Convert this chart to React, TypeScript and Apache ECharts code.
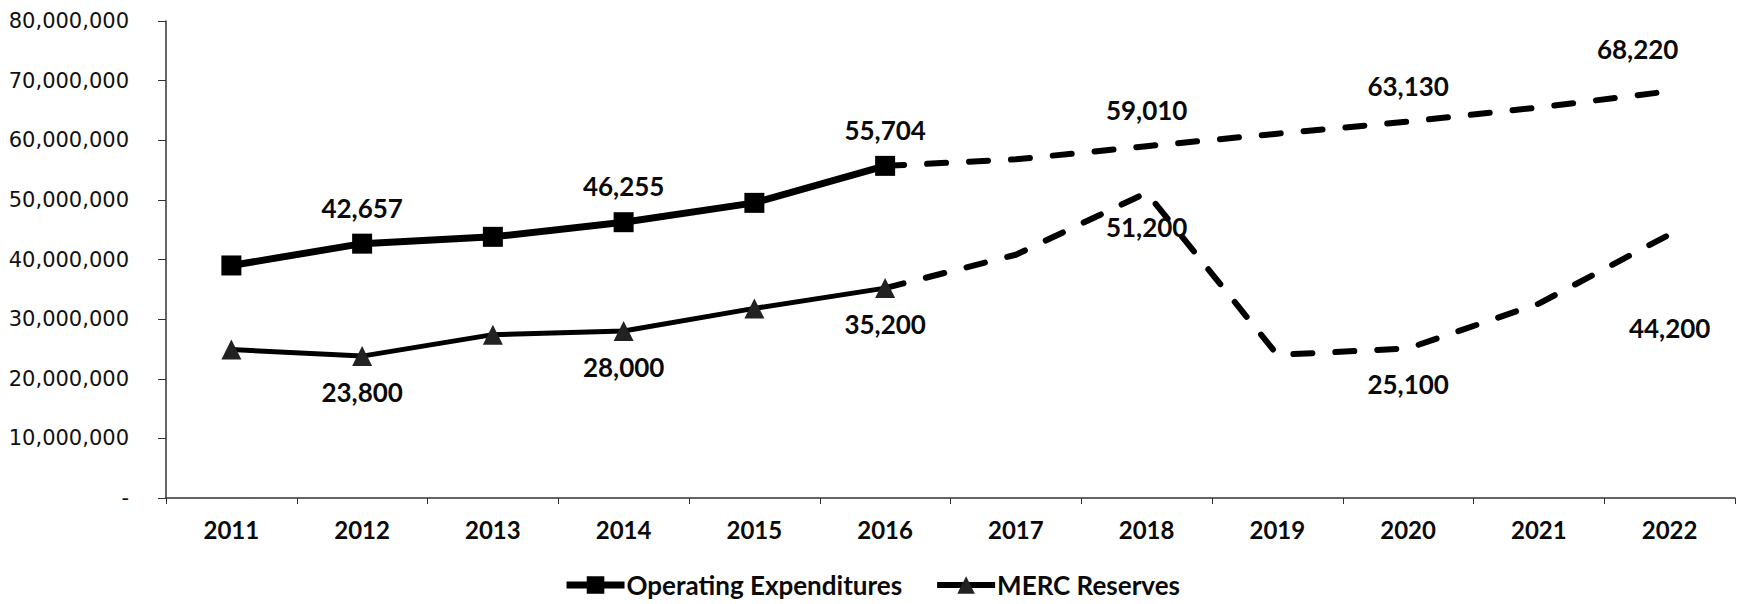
import React, { useEffect, useRef } from "react";
import * as echarts from "echarts";

const years = ["2011", "2012", "2013", "2014", "2015", "2016", "2017", "2018", "2019", "2020", "2021", "2022"];
// values in thousands of dollars (labels show thousands, axis shows dollars)
const opsK = [39000, 42657, 43800, 46255, 49500, 55704, 56800, 59010, 61100, 63130, 65500, 68220];
const mercK = [24900, 23800, 27400, 28000, 31800, 35200, 40800, 51200, 24000, 25100, 32600, 44200];
const yTicks = [0, 10000000, 20000000, 30000000, 40000000, 50000000, 60000000, 70000000, 80000000];
const lastActual = 5; // 2016
const opsLabelIdx = [1, 3, 5, 7, 9, 11];
const mercLabelIdx = [1, 3, 5, 7, 9, 11];

const opsOffsets: Record<number, number[]> = { 11: [-32, -42] };
const mercOffsets: Record<number, number[]> = { 7: [0, 34], 11: [0, 94] };

const fmt = (k: number) => k.toLocaleString("en-US");

const labelStyle = {
  fontFamily: "Lato",
  fontWeight: "bold" as const,
  fontSize: 26,
  color: "#0a0a0a",
};

function build(
  vals: number[],
  from: number,
  to: number,
  labelIdx: number[],
  offsets: Record<number, number[]>,
  defOff: number[]
) {
  return vals.map((v, i) => {
    if (i < from || i > to) return null;
    const show = labelIdx.includes(i) && !(from > 0 && i === from);
    return {
      value: v * 1000,
      label: show
        ? { show: true, position: "inside", offset: offsets[i] ?? defOff, formatter: fmt(v), ...labelStyle }
        : { show: false },
    };
  });
}

export default function App() {
  const ref = useRef<HTMLDivElement>(null);
  useEffect(() => {
    if (!ref.current) return;
    const chart = echarts.init(ref.current, undefined, { renderer: "svg" });
    chart.setOption({
      animation: false,
      backgroundColor: "#ffffff",
      grid: { left: 166, right: 8, top: 21, bottom: 106, containLabel: false },
      legend: {
        show: true,
        data: [
          { name: "Operating Expenditures", lineStyle: { width: 7 } },
          { name: "MERC Reserves", lineStyle: { width: 6 } },
        ],
        left: "center",
        top: 567,
        itemWidth: 58,
        itemHeight: 22,
        itemGap: 32,
        textStyle: { fontFamily: "Lato", fontWeight: "bold", fontSize: 26, color: "#0a0a0a", padding: [0, 0, 0, -3] },
      },
      xAxis: {
        type: "category",
        data: years,
        boundaryGap: true,
        axisLine: { show: true, lineStyle: { color: "#333", width: 1.5 } },
        axisTick: { show: true, length: 6, lineStyle: { color: "#333" } },
        axisLabel: { fontFamily: "Lato", fontWeight: "bold", fontSize: 24, color: "#0a0a0a", margin: 19 },
        splitLine: { show: false },
      },
      yAxis: {
        type: "value",
        min: yTicks[0],
        max: yTicks[yTicks.length - 1],
        interval: yTicks[1] - yTicks[0],
        axisLine: { show: true, lineStyle: { color: "#333", width: 1.5 } },
        axisTick: { show: true, length: 8, lineStyle: { color: "#333" } },
        splitLine: { show: false },
        axisLabel: {
          fontFamily: "DejaVu Sans",
          fontSize: 21,
          color: "#111",
          margin: 37,
          formatter: (v: number) => (v === 0 ? "-" : v.toLocaleString("en-US")),
        },
      },
      series: [
        {
          name: "Operating Expenditures",
          type: "line",
          data: build(opsK, 0, lastActual, opsLabelIdx, opsOffsets, [0, -36]),
          symbol: "rect",
          symbolSize: 20,
          itemStyle: { color: "#000" },
          lineStyle: { color: "#000", width: 7 },
          z: 3,
        },
        {
          name: "MERC Reserves",
          type: "line",
          data: build(mercK, 0, lastActual, mercLabelIdx, mercOffsets, [0, 36]),
          symbol: "triangle",
          symbolSize: 20,
          itemStyle: { color: "#222" },
          lineStyle: { color: "#000", width: 5 },
          z: 3,
        },
        {
          name: "Operating Expenditures (projected)",
          type: "line",
          data: build(opsK, lastActual, opsK.length - 1, opsLabelIdx, opsOffsets, [0, -36]),
          symbol: "circle",
          symbolSize: 0,
          itemStyle: { color: "#000" },
          lineStyle: { color: "#000", width: 6, type: [19, 23], cap: "round" },
          z: 2,
        },
        {
          name: "MERC Reserves (projected)",
          type: "line",
          data: build(mercK, lastActual, mercK.length - 1, mercLabelIdx, mercOffsets, [0, 36]),
          symbol: "circle",
          symbolSize: 0,
          itemStyle: { color: "#000" },
          lineStyle: { color: "#000", width: 6, type: [19, 23], cap: "round" },
          z: 2,
        },
      ],
    });
    return () => chart.dispose();
  }, []);
  return (
    <div
      ref={ref}
      style={{ position: "fixed", left: 0, top: 0, width: 1743, height: 604, background: "#fff" }}
    />
  );
}
